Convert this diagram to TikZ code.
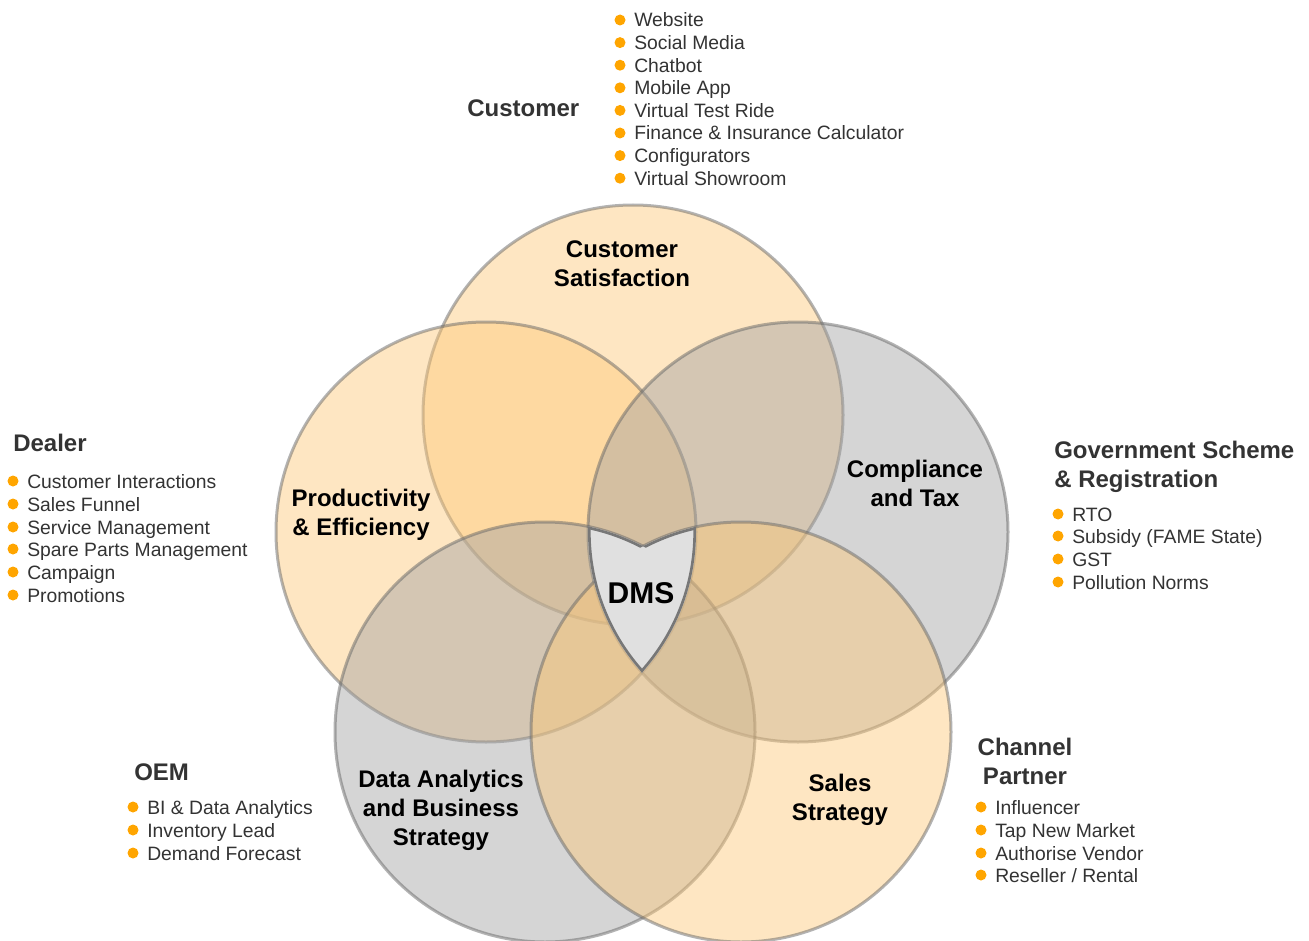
\documentclass[tikz,border=0pt]{standalone}
\usepackage{fontspec}
\setmainfont{Liberation Sans}
\definecolor{peach}{RGB}{253,200,120}
\definecolor{cgray}{RGB}{161,161,161}
\definecolor{edgec}{RGB}{103,103,103}
\definecolor{dotc}{RGB}{255,165,0}
\definecolor{txt}{RGB}{51,51,51}
\definecolor{shieldc}{RGB}{224,224,224}
\definecolor{shieldedge}{RGB}{119,119,119}
\tikzset{
 venn/.style={fill=#1, fill opacity=0.45, draw=edgec, draw opacity=0.5, line width=2.25pt},
 clabel/.style={font=\fontsize{18}{21.75}\selectfont\bfseries, align=center, text=black, inner sep=0},
 headtext/.style={font=\fontsize{18}{21.75}\selectfont\bfseries, text=txt, inner sep=0, anchor=west},
 listitem/.style={font=\fontsize{14.5}{17}\selectfont, text=txt, inner sep=0, anchor=base west},
 dotmark/.style={circle, fill=dotc, inner sep=0, minimum size=8.25pt},
 sedge/.style={draw=shieldedge, line width=4pt},
}
\newcommand{\bitem}[4]{%
  \node[dotmark] (#1b) at (#2,#3) {};
  \node[listitem] (#1) at (#2+14,#3+7) {#4};}
\newcommand{\cA}{(633,415) circle[radius=157.5pt]}
\newcommand{\cB}{(486,532) circle[radius=157.5pt]}
\newcommand{\cC}{(798,532) circle[radius=157.5pt]}
\newcommand{\cD}{(545,732) circle[radius=157.5pt]}
\newcommand{\cE}{(741,732) circle[radius=157.5pt]}
\begin{document}
\begin{tikzpicture}[x=0.75pt,y=-0.75pt]
\useasboundingbox (0,0) rectangle (1309,941);
% circles
\path[venn=peach] \cA;
\path[venn=peach] \cB;
\path[venn=cgray] \cC;
\path[venn=cgray] \cD;
\path[venn=peach] \cE;
% shield = B and C and (D or E)
\begin{scope}
 \clip \cB;
 \clip \cC;
 \clip \cD \cE;
 \fill[shieldc] (0,0) rectangle (1309,941);
 \draw[sedge] \cB;
 \draw[sedge] \cC;
 \begin{scope}[even odd rule]
  \clip (-10,-10) rectangle (1320,950) \cE;
  \draw[sedge] \cD;
 \end{scope}
 \begin{scope}[even odd rule]
  \clip (-10,-10) rectangle (1320,950) \cD;
  \draw[sedge] \cE;
 \end{scope}
\end{scope}
% circle labels
\node[clabel] (cs) at (622,264) {Customer\\Satisfaction};
\node[clabel] (pe) at (361,515) {Productivity\\\& Efficiency};
\node[clabel] (ct) at (915,483) {Compliance\\and Tax};
\node[clabel] (da) at (441,810) {Data Analytics\\and Business\\Strategy};
\node[clabel] (ss) at (840,800) {Sales\\Strategy};
\node[font=\fontsize{22.5}{26}\selectfont\bfseries, inner sep=0] (dms) at (641,593) {DMS};
% Customer
\node[headtext] (hcust) at (467,108) {Customer};
\bitem{c1}{620}{20}{Website}
\bitem{c2}{620}{42.6}{Social Media}
\bitem{c3}{620}{65.2}{Chatbot}
\bitem{c4}{620}{87.8}{Mobile App}
\bitem{c5}{620}{110.4}{Virtual Test Ride}
\bitem{c6}{620}{133}{Finance \& Insurance Calculator}
\bitem{c7}{620}{155.6}{Configurators}
\bitem{c8}{620}{178.2}{Virtual Showroom}
% Dealer
\node[headtext] (hdeal) at (13,443) {Dealer};
\bitem{d1}{13}{481}{Customer Interactions}
\bitem{d2}{13}{504}{Sales Funnel}
\bitem{d3}{13}{527}{Service Management}
\bitem{d4}{13}{549}{Spare Parts Management}
\bitem{d5}{13}{572}{Campaign}
\bitem{d6}{13}{595}{Promotions}
% Government
\node[headtext, align=left, anchor=north west] (hgov) at (1054,441) {Government Scheme\\\& Registration};
\bitem{g1}{1058}{514}{RTO}
\bitem{g2}{1058}{536}{Subsidy (FAME State)}
\bitem{g3}{1058}{559}{GST}
\bitem{g4}{1058}{582}{Pollution Norms}
% OEM
\node[headtext] (hoem) at (134,772) {OEM};
\bitem{o1}{133}{807}{BI \& Data Analytics}
\bitem{o2}{133}{830}{Inventory Lead}
\bitem{o3}{133}{853}{Demand Forecast}
% Channel partner
\node[headtext, align=center, anchor=north] (hch) at (1025,737.5) {Channel\\Partner};
\bitem{p1}{981}{807}{Influencer}
\bitem{p2}{981}{830}{Tap New Market}
\bitem{p3}{981}{853}{Authorise Vendor}
\bitem{p4}{981}{875}{Reseller / Rental}
\end{tikzpicture}
\end{document}
